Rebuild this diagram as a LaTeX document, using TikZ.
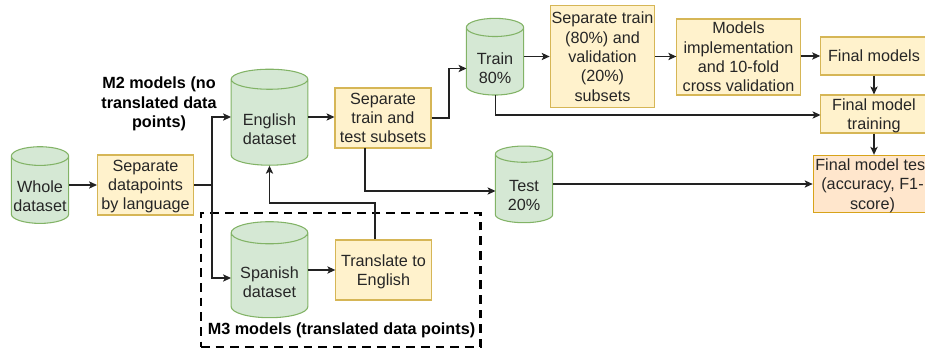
\documentclass[tikz,border=0pt]{standalone}
\usepackage{fontspec}
\setmainfont{Liberation Sans}
\usetikzlibrary{arrows.meta,shapes.geometric}
\definecolor{storefill}{HTML}{D5E8D4}
\definecolor{storeline}{HTML}{82B366}
\definecolor{stepfill}{HTML}{FFF2CC}
\definecolor{stepline}{HTML}{D6B656}
\definecolor{testfill}{HTML}{FFE6CC}
\definecolor{testline}{HTML}{D79B00}
\definecolor{wire}{HTML}{222222}
\tikzset{
	every node/.style={font=\fontsize{12.15}{14.5}\selectfont, text=black!85, align=center},
	store/.style={cylinder, shape border rotate=90, draw=storeline, line width=0.8pt,
		cylinder uses custom fill, cylinder body fill=storefill, cylinder end fill=storefill, inner sep=0pt,
		text height=32.8pt, text depth=0pt},
	smallstore/.style={store, minimum width=43pt, minimum height=57.5pt, aspect=0.5},
	bigstore/.style={store, minimum width=57.5pt, minimum height=72pt, aspect=0.377},
	stepbox/.style={rectangle, draw=stepline, fill=stepfill, line width=0.8pt, inner sep=0pt, text depth=0pt},
	testbox/.style={stepbox, draw=testline!70!stepline, fill=testfill},
	caption/.style={font=\fontsize{12.15}{14.5}\bfseries\selectfont, text=black},
	wired/.style={draw=wire, line width=0.8pt, -{Stealth[length=6pt,width=5.5pt,inset=1.5pt]}}
}
\begin{document}
\begin{tikzpicture}[x=0.75pt,y=-0.75pt]
	\clip (0,0) rectangle (925,349);
	% datasets
	\node[smallstore] (whole) at (40,190) {\makebox[28pt]{Whole}\\\makebox[28pt]{dataset}};
	\node[bigstore] (english) at (269.5,122.5) {English\\dataset};
	\node[bigstore] (spanish) at (269.5,275.5) {Spanish\\dataset};
	\node[smallstore] (train) at (495,61.5) {Train\\80\%};
	\node[smallstore] (test) at (524,188.7) {Test\\20\%};
	% steps
	\node[stepbox, minimum width=72pt, minimum height=45pt] (bylang) at (145.5,185) {Separate\\datapoints\\by language};
	\node[stepbox, minimum width=72pt, minimum height=45pt] (traintest) at (383,118) {Separate\\train and\\test subsets};
	\node[stepbox, minimum width=71.5pt, minimum height=45pt] (translate) at (383.5,270) {Translate to\\English};
	\node[stepbox, minimum width=78.5pt, minimum height=76pt] (trainval) at (602.5,56.5) {Separate train\\(80\%) and\\validation\\(20\%)\\subsets};
	\node[stepbox, minimum width=92.5pt, minimum height=57pt] (impl) at (738.5,57) {Models\\implementation\\and 10-fold\\cross validation};
	\node[stepbox, minimum width=80pt, minimum height=28.5pt] (finals) at (874,56) {Final models};
	\node[stepbox, minimum width=80pt, minimum height=28.5pt] (fintrain) at (874,114) {Final model\\training};
	\node[testbox, minimum width=89pt, minimum height=43pt] (fintest) at (872.5,184) {Final model test\\(accuracy, F1-\\score)};
	% captions
	\node[caption] (mtwo) at (159,104) {M2 models (no\\translated data\\points)};
	\node[caption] (mthree) at (341.5,330) {M3 models (translated data points)};
	\node[draw=black, line width=2pt, dash pattern=on 6.5pt off 4.5pt, minimum width=209.5pt, minimum height=100.5pt, inner sep=0pt] (mbox) at (340.5,280) {};
	% arrows
	\coordinate (enout) at (308,117);
	\coordinate (enin) at (231,117);
	\coordinate (esbend) at (212,278);
	\coordinate (esin) at (231,278);
	\coordinate (esout) at (308,270);
	\coordinate (trbend) at (449,68.5);
	\coordinate (trainin) at (466.5,68.5);
	\coordinate (ttout) at (365,148);
	\coordinate (testin) at (495.5,191);
	\coordinate (testout) at (553,184);
	\coordinate (up) at (375,203);
	\coordinate (enbend) at (212,117);
	\coordinate (ftin) at (820.5,115);
	\coordinate (trout) at (524,56.5);
	\coordinate (trdown) at (495.5,95);
	\draw[wired] (whole.east |- bylang.west) -- (bylang.west);
	\draw[wired] (bylang.east) -| (enbend) -- (enin);
	\draw[wired] (bylang.east) -| (esbend) -- (esin);
	\draw[wired] (enout) -- (traintest.west |- enout);
	\draw[wired] (traintest.east) -| (trbend) -- (trainin);
	\draw[wired] (ttout) |- (testin);
	\draw[wired] (esout) -- (translate.west);
	\draw[wired] (up |- translate.north) -- (up) -| (english.south);
	\draw[wired] (trout) -- (trainval.west |- trout);
	\draw[wired] (trainval.east) -- (impl.west |- trainval.east);
	\draw[wired] (impl.east |- finals.west) -- (finals.west);
	\draw[wired] (finals.south) -- (fintrain.north);
	\draw[wired] (fintrain.south) -- (fintrain.south |- fintest.north);
	\draw[wired] (trdown) |- (ftin);
	\draw[wired] (testout) -- (fintest.west);
\end{tikzpicture}
\end{document}
